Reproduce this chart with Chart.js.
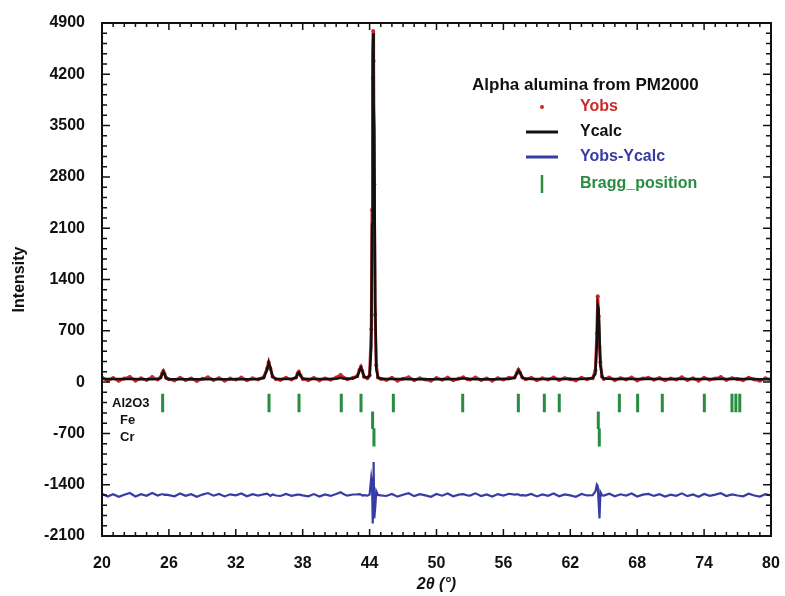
<!DOCTYPE html>
<html>
<head>
<meta charset="utf-8">
<script src="https://cdn.jsdelivr.net/npm/chart.js@4.4.1/dist/chart.umd.min.js"></script>
<style>
  html, body { margin: 0; padding: 0; background: #fff; }
</style>
</head>
<body>
<canvas id="xrd" width="785" height="596"></canvas>
<script>
// 2theta positions of the sampled profile
const twoTheta = [
  20.0, 20.5, 21.0, 21.5, 22.0, 22.5, 23.0, 23.5, 24.0, 24.5,
  25.0, 25.25, 25.4, 25.5, 25.6, 25.75, 26.0, 26.5, 27.0, 27.5,
  28.0, 28.5, 29.0, 29.5, 30.0, 30.5, 31.0, 31.5, 32.0, 32.5,
  33.0, 33.5, 34.0, 34.5, 34.8, 34.95, 35.1, 35.3, 35.6, 36.0,
  36.5, 37.0, 37.4, 37.55, 37.65, 37.8, 38.0, 38.5, 39.0, 39.5,
  40.0, 40.5, 41.0, 41.4, 41.7, 42.0, 42.5, 42.9, 43.1, 43.22,
  43.35, 43.5, 43.8, 44.0, 44.15, 44.22, 44.28, 44.32, 44.36, 44.42,
  44.5, 44.6, 44.75, 45.0, 45.5, 46.0, 46.5, 47.0, 47.5, 48.0,
  48.5, 49.0, 49.5, 50.0, 50.5, 51.0, 51.5, 52.0, 52.4, 52.8,
  53.0, 53.5, 54.0, 54.5, 55.0, 55.5, 56.0, 56.5, 57.0, 57.2,
  57.35, 57.5, 57.7, 58.0, 58.5, 59.0, 59.5, 60.0, 60.5, 61.0,
  61.5, 62.0, 62.5, 63.0, 63.5, 64.0, 64.25, 64.38, 64.46, 64.54,
  64.62, 64.7, 64.85, 65.0, 65.5, 66.0, 66.5, 67.0, 67.5, 68.0,
  68.5, 69.0, 69.5, 70.0, 70.5, 71.0, 71.5, 72.0, 72.5, 73.0,
  73.5, 74.0, 74.5, 75.0, 75.5, 76.0, 76.5, 77.0, 77.5, 78.0,
  78.5, 79.0, 79.5, 80.0
];

const yObs = [
  62, 22, 55, 18, 48, 70, 20, 52, 30, 68,
  35, 64, 122, 152, 116, 58, 40, 22, 60, 28,
  50, 16, 45, 66, 30, 54, 20, 49, 34, 62,
  24, 52, 36, 66, 185, 272, 188, 78, 40, 30,
  58, 34, 64, 122, 140, 92, 44, 26, 56, 22,
  50, 32, 62, 98, 60, 38, 58, 84, 172, 208,
  150, 72, 52, 92, 720, 2350, 4150, 4790, 4380, 2700,
  920, 230, 64, 44, 30, 58, 20, 46, 66, 26,
  52, 36, 18, 56, 32, 62, 24, 48, 66, 38,
  34, 64, 28, 50, 20, 54, 34, 60, 64, 124,
  168, 126, 62, 38, 58, 24, 52, 34, 64, 28,
  54, 40, 22, 60, 40, 54, 160, 660, 1170, 900,
  480, 270, 72, 44, 62, 26, 54, 36, 64, 22,
  50, 60, 32, 56, 24, 48, 34, 66, 28, 52,
  20, 58, 32, 48, 68, 30, 54, 40, 26, 60,
  36, 20, 52, 34
];

const yCalc = [
  45, 44, 43, 42, 42, 41, 41, 40, 40, 40,
  42, 55, 110, 140, 112, 52, 40, 39, 39, 38,
  38, 38, 38, 38, 38, 38, 38, 38, 38, 39,
  39, 40, 42, 55, 165, 265, 200, 70, 45, 42,
  42, 44, 60, 115, 132, 88, 48, 42, 42, 42,
  42, 43, 46, 60, 50, 46, 50, 75, 160, 200,
  155, 72, 60, 85, 480, 2150, 4500, 4760, 3800, 3450,
  1100, 180, 62, 48, 42, 42, 41, 41, 40, 40,
  40, 40, 40, 40, 40, 40, 41, 42, 52, 43,
  41, 40, 40, 40, 40, 40, 41, 42, 58, 115,
  158, 130, 62, 45, 42, 42, 43, 43, 43, 44,
  44, 44, 44, 44, 45, 55, 110, 520, 1050, 1000,
  650, 230, 75, 50, 44, 43, 43, 43, 43, 43,
  43, 43, 43, 44, 44, 43, 43, 42, 42, 42,
  42, 43, 42, 42, 42, 42, 44, 45, 42, 41,
  41, 40, 40, 40
];

// difference curve, plotted with an offset below the pattern
const yDiff = [
  -1525, -1562, -1530, -1566, -1537, -1513, -1561, -1530, -1552, -1514,
  -1549, -1533, -1530, -1530, -1538, -1536, -1542, -1559, -1521, -1552,
  -1530, -1564, -1535, -1514, -1550, -1526, -1560, -1531, -1546, -1519,
  -1557, -1530, -1548, -1531, -1522, -1535, -1554, -1534, -1547, -1554,
  -1526, -1552, -1538, -1535, -1534, -1538, -1546, -1558, -1528, -1562,
  -1534, -1553, -1526, -1504, -1532, -1550, -1534, -1533, -1530, -1534,
  -1547, -1542, -1550, -1535, -1300, -1380, -1930, -1530, -1090, -1860,
  -1720, -1490, -1540, -1546, -1554, -1526, -1563, -1537, -1516, -1556,
  -1530, -1546, -1564, -1526, -1550, -1520, -1559, -1536, -1528, -1547,
  -1549, -1518, -1554, -1532, -1562, -1528, -1549, -1524, -1536, -1533,
  -1532, -1546, -1542, -1549, -1526, -1560, -1533, -1551, -1521, -1558,
  -1532, -1546, -1564, -1526, -1547, -1543, -1492, -1400, -1420, -1640,
  -1860, -1500, -1545, -1548, -1524, -1558, -1531, -1549, -1521, -1562,
  -1535, -1525, -1553, -1530, -1562, -1537, -1551, -1518, -1556, -1532,
  -1564, -1527, -1552, -1536, -1516, -1554, -1532, -1547, -1558, -1523,
  -1547, -1562, -1530, -1548
];

// Bragg reflections per phase
const phaseNames = ['Al2O3', 'Fe', 'Cr'];
const braggAl2O3 = [25.44, 34.98, 37.67, 41.46, 43.23, 46.13, 52.35, 57.34, 59.67,
  61.01, 66.4, 68.04, 70.25, 74.02, 76.5, 76.85, 77.2];
const braggFe = [44.27, 64.51];
const braggCr = [44.39, 64.6];
const braggTop = [-160, -400, -630];
const braggBottom = [-410, -640, -880];

const xMin = 20, xMax = 80, xStep = 6, xMinor = 1;
const yMin = -2100, yMax = 4900, yStep = 700, yMinor = 140;

const FONT = "'Liberation Sans', Arial, sans-serif";
const RED = 'rgb(205, 40, 40)';
const BLUE = 'rgb(55, 60, 165)';
const GREEN = 'rgb(40, 140, 65)';

function pairs(xs, ys) {
  return xs.map((t, i) => ({ x: t, y: ys[i] }));
}

function tickSegments(positions, top, bottom) {
  const out = [];
  positions.forEach(p => {
    out.push({ x: p, y: top }, { x: p, y: bottom }, { x: p, y: null });
  });
  return out;
}

const braggData = [
  ...tickSegments(braggAl2O3, braggTop[0], braggBottom[0]),
  ...tickSegments(braggFe, braggTop[1], braggBottom[1]),
  ...tickSegments(braggCr, braggTop[2], braggBottom[2])
];

// box frame with inward ticks on all four sides
const frameTicks = {
  id: 'frameTicks',
  afterDatasetsDraw(chart) {
    const { ctx, chartArea: a, scales: { x, y } } = chart;
    ctx.save();
    ctx.strokeStyle = '#111';
    ctx.lineWidth = 1.5;
    ctx.beginPath();
    for (let v = xMin; v <= xMax + 1e-6; v += xMinor) {
      const px = x.getPixelForValue(v);
      const major = Math.abs(((v - xMin) / xStep) - Math.round((v - xMin) / xStep)) < 1e-6;
      const len = major ? 7 : 4;
      ctx.moveTo(px, a.bottom); ctx.lineTo(px, a.bottom - len);
      ctx.moveTo(px, a.top); ctx.lineTo(px, a.top + len);
    }
    for (let v = yMin; v <= yMax + 1e-6; v += yMinor) {
      const py = y.getPixelForValue(v);
      const major = Math.abs(((v - yMin) / yStep) - Math.round((v - yMin) / yStep)) < 1e-6;
      const len = major ? 8 : 5;
      ctx.moveTo(a.left, py); ctx.lineTo(a.left + len, py);
      ctx.moveTo(a.right, py); ctx.lineTo(a.right - len, py);
    }
    ctx.stroke();
    ctx.lineWidth = 2;
    ctx.strokeRect(a.left, a.top, a.right - a.left, a.bottom - a.top);

    // phase names next to the Bragg tick rows
    ctx.fillStyle = '#111';
    ctx.font = 'bold 13px ' + FONT;
    ctx.textBaseline = 'middle';
    ctx.textAlign = 'left';
    phaseNames.forEach((name, i) => {
      const py = y.getPixelForValue((braggTop[i] + braggBottom[i]) / 2);
      ctx.fillText(name, a.left + (i === 0 ? 10 : 18), py);
    });
    ctx.restore();
  }
};

// legend block in the upper right
const legendBlock = {
  id: 'legendBlock',
  afterDraw(chart) {
    const { ctx, chartArea: a } = chart;
    ctx.save();
    ctx.textBaseline = 'middle';
    ctx.textAlign = 'left';
    ctx.fillStyle = '#111';
    ctx.font = 'bold 17px ' + FONT;
    ctx.fillText('Alpha alumina from PM2000', a.right - 299, a.top + 62);

    const sx = a.right - 229;
    const tx = a.right - 191;
    const rows = [
      { label: 'Yobs', color: RED, kind: 'dot', dy: 84 },
      { label: 'Ycalc', color: '#111', kind: 'line', dy: 109 },
      { label: 'Yobs-Ycalc', color: BLUE, kind: 'line', dy: 134 },
      { label: 'Bragg_position', color: GREEN, kind: 'tick', dy: 161 }
    ];
    ctx.font = 'bold 16px ' + FONT;
    rows.forEach(r => {
      const ry = a.top + r.dy;
      ctx.strokeStyle = r.color;
      ctx.fillStyle = r.color;
      if (r.kind === 'dot') {
        ctx.beginPath();
        ctx.arc(sx, ry, 2, 0, Math.PI * 2);
        ctx.fill();
      } else if (r.kind === 'line') {
        ctx.lineWidth = 3;
        ctx.beginPath();
        ctx.moveTo(sx - 16, ry); ctx.lineTo(sx + 16, ry);
        ctx.stroke();
      } else {
        ctx.lineWidth = 2.5;
        ctx.beginPath();
        ctx.moveTo(sx, ry - 9); ctx.lineTo(sx, ry + 9);
        ctx.stroke();
      }
      ctx.fillText(r.label, tx, ry);
    });
    ctx.restore();
  }
};

new Chart(document.getElementById('xrd'), {
  type: 'scatter',
  data: {
    datasets: [
      {
        label: 'Ycalc',
        data: pairs(twoTheta, yCalc),
        showLine: true,
        borderColor: '#111',
        borderWidth: 2.5,
        pointRadius: 0,
        order: 0
      },
      {
        label: 'Yobs',
        data: pairs(twoTheta, yObs),
        showLine: true,
        borderColor: RED,
        backgroundColor: RED,
        borderWidth: 3,
        pointRadius: 2,
        pointBorderWidth: 0,
        order: 1
      },
      {
        label: 'Yobs-Ycalc',
        data: pairs(twoTheta, yDiff),
        showLine: true,
        borderColor: BLUE,
        borderWidth: 2.2,
        pointRadius: 0,
        order: 2
      },
      {
        label: 'Bragg_position',
        data: braggData,
        showLine: true,
        spanGaps: false,
        borderColor: GREEN,
        borderWidth: 3,
        borderCapStyle: 'butt',
        pointRadius: 0,
        order: 3
      }
    ]
  },
  options: {
    responsive: false,
    animation: false,
    devicePixelRatio: 1,
    layout: { padding: { top: 23, right: 14, left: 0, bottom: 0 } },
    plugins: {
      legend: { display: false },
      tooltip: { enabled: false }
    },
    scales: {
      x: {
        type: 'linear',
        min: xMin,
        max: xMax,
        grid: { display: false, drawTicks: false },
        border: { display: false },
        ticks: {
          stepSize: xStep,
          padding: 18,
          color: '#111',
          font: { family: FONT, size: 16, weight: 'bold' },
          maxRotation: 0
        },
        title: {
          display: true,
          text: '2θ (°)',
          color: '#111',
          padding: { top: 0, bottom: 2 },
          font: { family: FONT, size: 16, weight: 'bold', style: 'italic' }
        },
        afterFit(scale) {
          scale.height = 60;
          scale.paddingLeft = 0;
          scale.paddingRight = 0;
        }
      },
      y: {
        type: 'linear',
        min: yMin,
        max: yMax,
        grid: { display: false, drawTicks: false },
        border: { display: false },
        ticks: {
          stepSize: yStep,
          padding: 17,
          color: '#111',
          font: { family: FONT, size: 16, weight: 'bold' },
          callback: v => String(v)
        },
        title: {
          display: true,
          text: 'Intensity',
          color: '#111',
          padding: { top: 10, bottom: 0 },
          font: { family: FONT, size: 16, weight: 'bold' }
        },
        afterFit(scale) {
          scale.width = 102;
          scale.paddingTop = 0;
          scale.paddingBottom = 0;
        }
      }
    }
  },
  plugins: [frameTicks, legendBlock]
});
</script>
</body>
</html>
